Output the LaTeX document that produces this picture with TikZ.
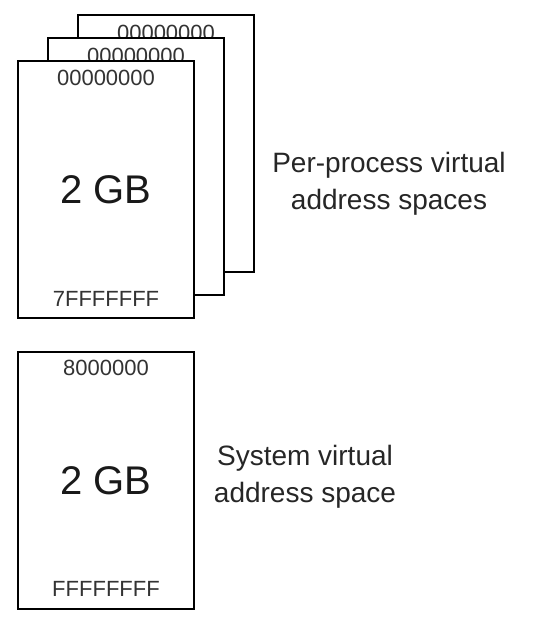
\documentclass[tikz,border=0pt]{standalone}
\usepackage{fontspec}
\setmainfont{Liberation Sans}
\begin{document}
\begin{tikzpicture}[x=1pt,y=1pt,
    space/.style={draw=black, line width=2pt, fill=white, inner sep=0pt,
      minimum width=176pt, minimum height=257pt},
    addr/.style={inner sep=0pt, text=black!80, font=\fontsize{22}{26}\selectfont},
    size/.style={inner sep=0pt, text=black!90, font=\fontsize{40}{48}\selectfont},
    caption/.style={inner sep=0pt, align=center, text=black!85,
      font=\fontsize{28}{37}\selectfont}]
  \useasboundingbox (0,0) rectangle (556,622);
  % stacked per-process spaces, back to front
  \node[space] (back) at (166,478.5) {};
  \node[addr] (back-lo) at ([yshift=-19pt]back.north) {00000000};
  \node[space] (middle) at (136,455.5) {};
  \node[addr] (middle-lo) at ([yshift=-19pt]middle.north) {00000000};
  \node[space] (front) at (106,432.5) {};
  \node[addr] (front-lo) at ([yshift=-18pt]front.north) {00000000};
  \node[size] (front-size) at (front) {2 GB};
  \node[addr] (front-hi) at ([yshift=20pt]front.south) {7FFFFFFF};
  \node[caption] (proclabel) at (389,438.5) {Per-process virtual\\address spaces};
  % system space
  \node[space] (sys) at (106,141.5) {};
  \node[addr] (sys-lo) at ([yshift=-17pt]sys.north) {8000000};
  \node[size] (sys-size) at (sys) {2 GB};
  \node[addr] (sys-hi) at ([yshift=21pt]sys.south) {FFFFFFFF};
  \node[caption] (syslabel) at (305,145) {System virtual\\address space};
\end{tikzpicture}
\end{document}
